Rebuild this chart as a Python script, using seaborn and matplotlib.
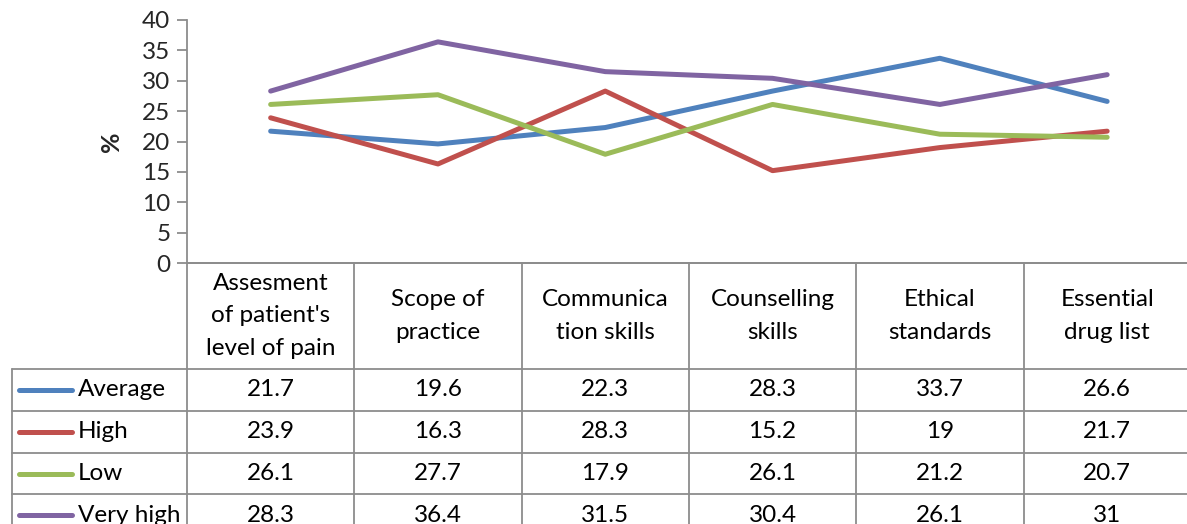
import numpy as np
import pandas as pd
import seaborn as sns
import matplotlib
matplotlib.use("Agg")
import matplotlib.pyplot as plt

categories = ["Assesment\nof patient's\nlevel of pain", "Scope of\npractice", "Communica\ntion skills",
              "Counselling\nskills", "Ethical\nstandards", "Essential\ndrug list"]
series = ["Average", "High", "Low", "Very high"]
average = [21.7, 19.6, 22.3, 28.3, 33.7, 26.6]
high = [23.9, 16.3, 28.3, 15.2, 19, 21.7]
low = [26.1, 27.7, 17.9, 26.1, 21.2, 20.7]
very_high = [28.3, 36.4, 31.5, 30.4, 26.1, 31]
colors = ["#4F81BD", "#C0504D", "#9BBB59", "#8064A2"]

values = [average, high, low, very_high]
df = pd.DataFrame([
    {"pos": i, "series": s, "value": v}
    for s, vals in zip(series, values)
    for i, v in enumerate(vals)
])

sns.set_style("white")
plt.rcParams['font.family'] = ['Lato', 'DejaVu Sans']

W, H = 1187, 524
fig = plt.figure(figsize=(W / 100, H / 100), dpi=100)

# layout in pixels
x0 = 187
colw = 167.3
top, zero = 20, 263
ax = fig.add_axes([x0 / W, 1 - zero / H, 6 * colw / W, (zero - top) / H])
sns.lineplot(data=df, x="pos", y="value", hue="series", palette=colors,
             linewidth=3.6, sort=False, legend=False, ax=ax)
ax.set_xlim(-0.5, 5.5)
ax.set_ylim(0, 40)
ax.set_yticks(range(0, 41, 5))
ax.set_xticks([])
ax.set_xlabel("")
ax.set_ylabel("%", fontsize=18, fontweight="bold", labelpad=14)
grid = "#8C8C8C"
for side in ["top", "right"]:
    ax.spines[side].set_visible(False)
ax.spines["left"].set_color(grid)
ax.spines["bottom"].set_color(grid)
ax.spines["left"].set_linewidth(1.3)
ax.spines["bottom"].set_linewidth(1.3)
ax.tick_params(axis="y", direction="out", length=7, width=1.3, color=grid,
               labelsize=17.5, pad=5, left=True)

# data table below the plot, drawn in pixel coordinates
tab = fig.add_axes([0, 0, 1, 1], facecolor="none")
tab.set_xlim(0, W)
tab.set_ylim(H, 0)
tab.axis("off")
right = x0 + 6 * colw
leg_left = 12
row_tops = [369, 411, 453, 494, 536]
lw = 1.3
tab.plot([x0, right], [zero, zero], color=grid, lw=lw)
for y in row_tops:
    tab.plot([leg_left, right], [y, y], color=grid, lw=lw)
tab.plot([leg_left, leg_left], [row_tops[0], row_tops[-1]], color=grid, lw=lw)
for k in range(7):
    xk = x0 + k * colw
    tab.plot([xk, xk], [zero, row_tops[-1]], color=grid, lw=lw)

for i, cat in enumerate(categories):
    tab.text(x0 + (i + 0.5) * colw, (zero + row_tops[0]) / 2, cat, ha="center", va="center",
             fontsize=17.5, linespacing=1.65, color="black")

for r, (s, vals, c) in enumerate(zip(series, values, colors)):
    yc = (row_tops[r] + row_tops[r + 1]) / 2
    tab.plot([19, 72], [yc, yc], color=c, lw=3.6, solid_capstyle="round")
    tab.text(78, yc, s, ha="left", va="center", fontsize=17.5, color="black")
    for i, v in enumerate(vals):
        tab.text(x0 + (i + 0.5) * colw, yc, f"{v:g}", ha="center", va="center",
                 fontsize=17.5, color="black")

fig.savefig("out.png", dpi=100)
